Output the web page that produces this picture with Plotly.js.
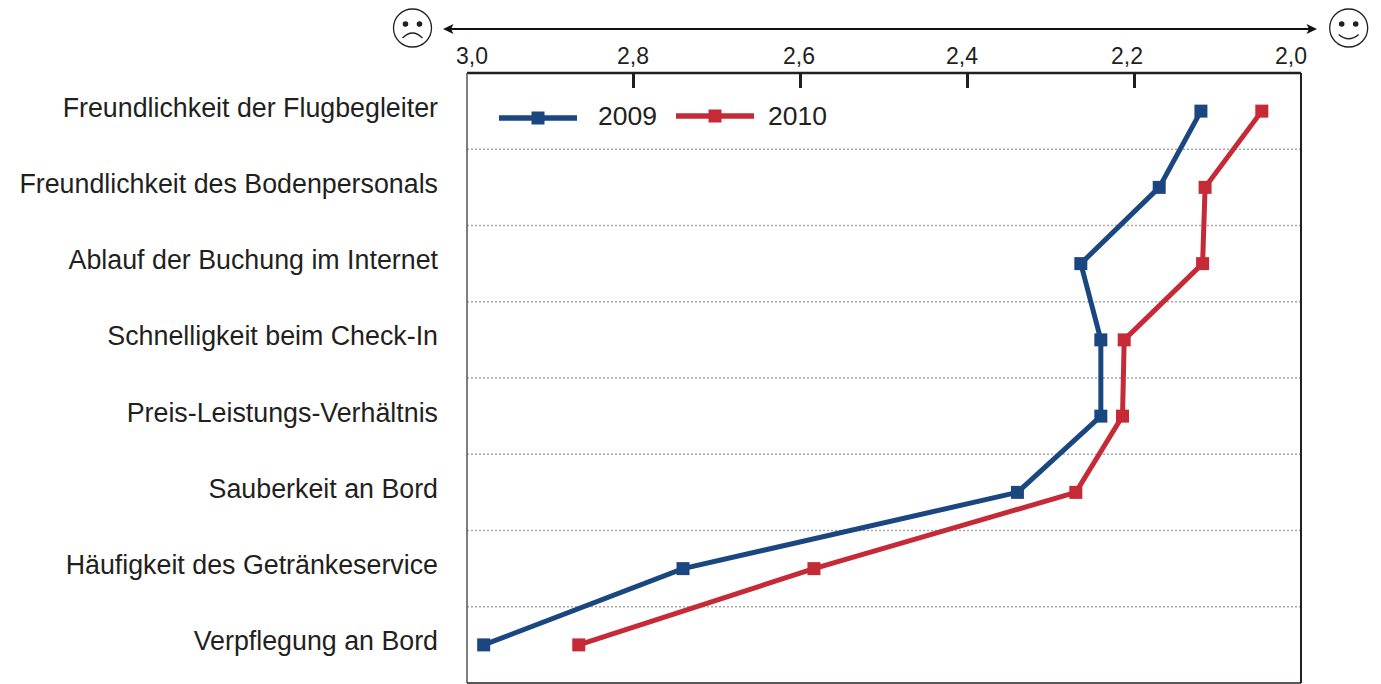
<!DOCTYPE html>
<html><head><meta charset="utf-8">
<script src="https://cdn.plot.ly/plotly-3.0.1.min.js"></script>
<style>html,body{margin:0;padding:0;background:#fff}#c{width:1381px;height:684px}</style>
</head><body><div id="c"></div>
<script>
const categories = ["Freundlichkeit der Flugbegleiter","Freundlichkeit des Bodenpersonals","Ablauf der Buchung im Internet","Schnelligkeit beim Check-In","Preis-Leistungs-Verhältnis","Sauberkeit an Bord","Häufigkeit des Getränkeservice","Verpflegung an Bord"];
const seriesNames = ["2009","2010"];
const values2009 = [2.12,2.17,2.264,2.24,2.24,2.34,2.741,2.98];
const values2010 = [2.047,2.115,2.118,2.212,2.214,2.27,2.584,2.866];
const tickValues = [3.0,2.8,2.6,2.4,2.2,2.0];
const tickShifts = [5,-1,-2,-5,-7,-10];
const W=1381,H=684,L=467,R=1301,T=73,B=683;
const px=x=>(x-L)/(R-L), py=y=>(B-y)/(B-T);
const INK='#231f20', BLUE='#1a4780', RED='#c52a36';
const mk=(name,x,color)=>({type:'scatter',mode:'lines+markers',name,x,y:categories,showlegend:false,
  line:{color,width:5},marker:{symbol:'square',size:13,color},cliponaxis:false});
const shapes=[];
categories.slice(0,-1).forEach((c,i)=>shapes.push({type:'line',xref:'paper',yref:'y',x0:0,x1:1,y0:i+0.5,y1:i+0.5,
  line:{color:'#a8a8a8',width:1.3,dash:'2px,2px'},layer:'below'}));
const path=pts=>pts.map(s=>typeof s==='string'?s:px(s[0])+','+py(s[1])).join(' ');
function face(cx,cy,smile){
  const r=19;
  shapes.push({type:'circle',xref:'paper',yref:'paper',x0:px(cx-r),x1:px(cx+r),y0:py(cy+r),y1:py(cy-r),line:{color:INK,width:1.3}});
  [-7,7].forEach(dx=>shapes.push({type:'circle',xref:'paper',yref:'paper',x0:px(cx+dx-2.8),x1:px(cx+dx+2.8),y0:py(cy-4+2.8),y1:py(cy-4-2.8),fillcolor:INK,line:{color:INK,width:0}}));
  const d=smile?path(['M',[cx-10,cy+6.5],'Q',[cx,cy+15],[cx+10,cy+6.5]]):path(['M',[cx-10,cy+10],'Q',[cx,cy],[cx+10,cy+10]]);
  shapes.push({type:'path',xref:'paper',yref:'paper',path:d,line:{color:INK,width:1.3},fillcolor:'rgba(0,0,0,0)'});
}
face(412.5,28,false); face(1348.7,28,true);
shapes.push({type:'line',xref:'paper',yref:'paper',x0:px(446),x1:px(1314),y0:py(29),y1:py(29),line:{color:'#111',width:2}});
shapes.push({type:'path',xref:'paper',yref:'paper',path:path(['M',[443,29],'L',[453.5,24],'L',[451,29],'L',[453.5,34],'Z']),fillcolor:'#111',line:{width:0}});
shapes.push({type:'path',xref:'paper',yref:'paper',path:path(['M',[1317,29],'L',[1306.5,24],'L',[1309,29],'L',[1306.5,34],'Z']),fillcolor:'#111',line:{width:0}});
// frame
shapes.push({type:'line',xref:'paper',yref:'paper',x0:0,x1:1,y0:1,y1:1,line:{color:INK,width:2.5}});
shapes.push({type:'line',xref:'paper',yref:'paper',x0:1,x1:1,y0:0,y1:1,line:{color:INK,width:2}});
shapes.push({type:'line',xref:'paper',yref:'paper',x0:0,x1:0,y0:0,y1:1,line:{color:'#555',width:1.5}});
shapes.push({type:'line',xref:'paper',yref:'paper',x0:0,x1:1,y0:0,y1:0,line:{color:INK,width:1.5}});
// legend keys
const keys=[{x:499,y:118,c:BLUE,tx:597},{x:676,y:116,c:RED,tx:767}];
const annotations=[];
keys.forEach((k,i)=>{
  shapes.push({type:'line',xref:'paper',yref:'paper',x0:px(k.x),x1:px(k.x+78),y0:py(k.y),y1:py(k.y),line:{color:k.c,width:5.5}});
  shapes.push({type:'rect',xref:'paper',yref:'paper',x0:px(k.x+32.5),x1:px(k.x+45.5),y0:py(k.y+6.5),y1:py(k.y-6.5),fillcolor:k.c,line:{width:0}});
  annotations.push({xref:'paper',yref:'paper',x:px(k.tx),y:py(116),text:seriesNames[i],showarrow:false,xanchor:'left',yanchor:'middle',font:{size:26.5,color:INK},borderpad:0});
});
tickValues.forEach((v,i)=>annotations.push({xref:'x',yref:'paper',x:v,xshift:tickShifts[i],y:py(56),text:v.toFixed(1).replace('.',','),showarrow:false,xanchor:'center',yanchor:'middle',font:{size:23,color:INK},borderpad:0}));
Plotly.newPlot('c',[mk(seriesNames[0],values2009,BLUE),mk(seriesNames[1],values2010,RED)],{
  width:W,height:H,margin:{l:L,r:W-R,t:T,b:H-B,pad:0},
  paper_bgcolor:'#fff',plot_bgcolor:'#fff',separators:',.',
  font:{family:'"Liberation Sans",Arial,sans-serif',size:24,color:INK},
  showlegend:false,
  xaxis:{side:'top',range:[3,2],tickmode:'array',tickvals:tickValues,showticklabels:false,ticks:'inside',ticklen:15,tickwidth:3,tickcolor:INK,
    showgrid:false,zeroline:false,showline:false},
  yaxis:{type:'category',categoryorder:'array',categoryarray:categories,range:[7.5,-0.5],ticks:'',showgrid:false,zeroline:false,showline:false,
    ticklabelstandoff:28,ticklabelshift:4,tickfont:{size:26.8,color:INK}},
  annotations,shapes
},{displayModeBar:false,staticPlot:true});
</script></body></html>
